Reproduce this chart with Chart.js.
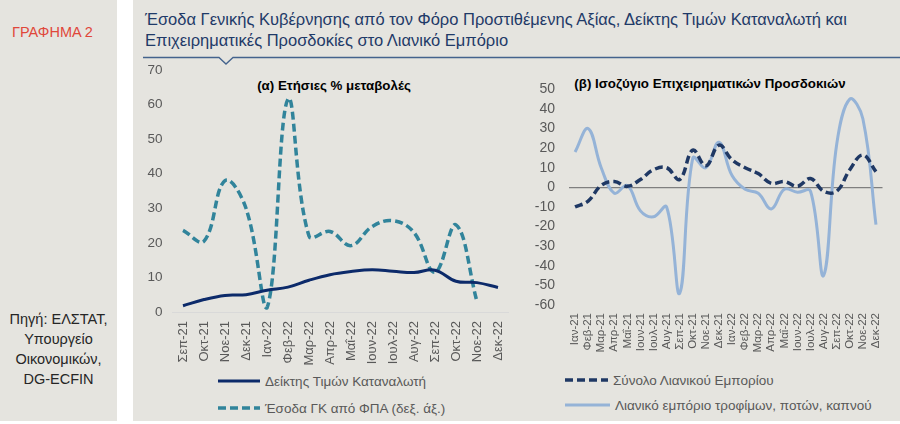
<!DOCTYPE html>
<html>
<head>
<meta charset="utf-8">
<script src="https://cdn.jsdelivr.net/npm/chart.js@4.4.0/dist/chart.umd.min.js"></script>
<style>
  body { margin: 0; width: 900px; height: 424px; background: #fff; position: relative; overflow: hidden;
         font-family: "Liberation Sans", Arial, sans-serif; }
  .panel { position: absolute; top: 0; height: 421px; background: #e5e4df; }
  .abs { position: absolute; white-space: nowrap; }
  .label-red { left: 12px; top: 24px; color: #e0473a; font-size: 14.5px; }
  .source { left: 0; width: 117px; top: 309px; text-align: center; color: #262626; font-size: 14.5px; line-height: 20px; }
  .title { left: 145px; top: 9px; color: #1f3a68; font-size: 16.5px; line-height: 20.5px; }
  .sub { font-weight: bold; font-size: 13.3px; color: #000; transform: translateX(-50%); }
  .leg { position: absolute; display: flex; align-items: center; height: 18px; color: #595959; font-size: 13.5px; white-space: nowrap; }
  .leg svg { margin-right: 5px; }
  canvas { position: absolute; }
</style>
</head>
<body>
<div class="panel" style="left:0;width:117px"></div>
<div class="panel" style="left:133px;width:767px"></div>

<div class="abs label-red">ΓΡΑΦΗΜΑ 2</div>
<div class="abs source">Πηγή: ΕΛΣΤΑΤ,<br>Υπουργείο<br>Οικονομικών,<br>DG-ECFIN</div>

<div class="abs title">Έσοδα Γενικής Κυβέρνησης από τον Φόρο Προστιθέμενης Αξίας, Δείκτης Τιμών Καταναλωτή και<br>Επιχειρηματικές Προσδοκίες στο Λιανικό Εμπόριο</div>
<svg class="abs" style="left:0;top:0" width="900" height="70">
  <polyline points="143,57.5 219,57.5 226,64 233,57.5 900,57.5" fill="none" stroke="#44638d" stroke-width="1.3"/>
</svg>

<div class="abs sub" style="left:334px;top:78px">(α) Ετήσιες % μεταβολές</div>
<div class="abs sub" style="left:710px;top:76px">(β) Ισοζύγιο Επιχειρηματικών Προσδοκιών</div>

<canvas id="chartA" width="375" height="312" style="left:140px;top:60px"></canvas>
<canvas id="chartB" width="385" height="275" style="left:515px;top:80px"></canvas>

<div class="leg" style="left:218px;top:372px">
  <svg width="42" height="6"><line x1="0" y1="3" x2="42" y2="3" stroke="#0c2a6a" stroke-width="3"/></svg>
  <span>Δείκτης Τιμών Καταναλωτή</span>
</div>
<div class="leg" style="left:218px;top:399px">
  <svg width="42" height="6"><line x1="0" y1="3" x2="42" y2="3" stroke="#31849b" stroke-width="3.5" stroke-dasharray="8,4"/></svg>
  <span>Έσοδα ΓΚ από ΦΠΑ (δεξ. άξ.)</span>
</div>
<div class="leg" style="left:565px;top:371px">
  <svg width="43" height="6"><line x1="0" y1="3" x2="43" y2="3" stroke="#1f3864" stroke-width="3.5" stroke-dasharray="8,4"/></svg>
  <span>Σύνολο Λιανικού Εμπορίου</span>
</div>
<div class="leg" style="left:565px;top:396px">
  <svg width="45" height="6"><line x1="0" y1="3" x2="45" y2="3" stroke="#95b3d7" stroke-width="3"/></svg>
  <span>Λιανικό εμπόριο τροφίμων, ποτών, καπνού</span>
</div>

<script>
// ---- data: (α) annual % changes ----
const monthsA = ['Σεπ-21', 'Οκτ-21', 'Νοε-21', 'Δεκ-21', 'Ιαν-22', 'Φεβ-22', 'Μαρ-22', 'Απρ-22',
                 'Μαΐ-22', 'Ιουν-22', 'Ιουλ-22', 'Αυγ-22', 'Σεπ-22', 'Οκτ-22', 'Νοε-22', 'Δεκ-22'];
const cpi = [1.8, 3.6, 4.8, 5.0, 6.3, 7.2, 9.2, 10.8, 11.7, 12.2, 11.8, 11.4, 12.1, 8.9, 8.5, 7.1];
const vatRevenue = [23.6, 20.5, 38, 30, 1.2, 61.6, 22, 23.3, 19.2, 24.7, 26.4, 23, 11.5, 25.2, 3, null];
const ticksA = [0, 10, 20, 30, 40, 50, 60, 70];

// ---- data: (β) business expectations balance ----
const monthsB = ['Ιαν-21', 'Φεβ-21', 'Μαρ-21', 'Απρ-21', 'Μαΐ-21', 'Ιουν-21', 'Ιουλ-21', 'Αυγ-21',
                 'Σεπ-21', 'Οκτ-21', 'Νοε-21', 'Δεκ-21', 'Ιαν-22', 'Φεβ-22', 'Μαρ-22', 'Απρ-22',
                 'Μαΐ-22', 'Ιουν-22', 'Ιουλ-22', 'Αυγ-22', 'Σεπ-22', 'Οκτ-22', 'Νοε-22', 'Δεκ-22'];
const retailTotal = [-10, -7, 1, 3, 0.5, 4, 9, 10, 4, 19, 11, 21.5, 14, 10, 7, 2, 3, 0.5, 4.5, -2, -2, 9, 16.5, 8];
const retailFood = [18, 30, 10, -3, 1, -12, -15, -10, -54, 15, 10, 23, 6, -1, -3, -11, -1, -2.5, -2, -45, 22, 45, 35, -19];
const ticksB = [-60, -50, -40, -30, -20, -10, 0, 10, 20, 30, 40, 50];

const tickColor = '#595959';
const fontFamily = '"Liberation Sans", Arial, sans-serif';

// keep the plot area exactly where layout.padding + afterFit put it
const noPad = s => { s.paddingTop = 0; s.paddingBottom = 0; s.paddingLeft = 0; s.paddingRight = 0; };

const baseOptions = {
  responsive: false,
  animation: false,
  devicePixelRatio: 1,
  plugins: { legend: { display: false }, tooltip: { enabled: false } },
  elements: { point: { radius: 0 }, line: { tension: 0.4, borderCapStyle: 'butt' } }
};

new Chart(document.getElementById('chartA'), {
  type: 'line',
  data: {
    labels: monthsA,
    datasets: [
      { data: cpi, borderColor: '#0c2a6a', borderWidth: 3 },
      { data: vatRevenue, borderColor: '#31849b', borderWidth: 3.5, borderDash: [8, 4] }
    ]
  },
  options: {
    ...baseOptions,
    layout: { padding: { top: 10, right: 6.5, bottom: 0, left: 0 } },
    scales: {
      x: {
        offset: true,
        grid: { display: false, drawTicks: false },
        border: { display: true, color: '#d9d9d9', width: 1 },
        ticks: { color: tickColor, font: { family: fontFamily, size: 13 }, minRotation: 90, maxRotation: 90, autoSkip: false, padding: 9 },
        afterFit: s => { s.height = 60; noPad(s); }
      },
      y: {
        min: ticksA[0], max: ticksA[ticksA.length - 1],
        afterBuildTicks: s => { s.ticks = ticksA.map(v => ({ value: v })); },
        grid: { display: false, drawTicks: false },
        border: { display: false },
        ticks: { color: tickColor, font: { family: fontFamily, size: 13.5 }, padding: 10, autoSkip: false },
        afterFit: s => { s.width = 32.5; noPad(s); }
      }
    }
  }
});

new Chart(document.getElementById('chartB'), {
  type: 'line',
  data: {
    labels: monthsB,
    datasets: [
      { data: retailTotal, borderColor: '#1f3864', borderWidth: 3.5, borderDash: [8, 4] },
      { data: retailFood, borderColor: '#95b3d7', borderWidth: 3 }
    ]
  },
  options: {
    ...baseOptions,
    layout: { padding: { top: 9.3, right: 17.5, bottom: 0, left: 0 } },
    scales: {
      x: {
        offset: true,
        grid: { display: false, drawTicks: false },
        border: { display: false },
        ticks: { color: tickColor, font: { family: fontFamily, size: 11.5 }, minRotation: 90, maxRotation: 90, autoSkip: false, padding: 8 },
        afterFit: s => { s.height = 50; noPad(s); }
      },
      y: {
        min: ticksB[0], max: ticksB[ticksB.length - 1],
        afterBuildTicks: s => { s.ticks = ticksB.map(v => ({ value: v })); },
        grid: { drawTicks: false, color: c => c.tick.value === 0 ? '#7f7f7f' : 'rgba(0,0,0,0)', lineWidth: 1.3 },
        border: { display: false },
        ticks: { color: tickColor, font: { family: fontFamily, size: 14 }, padding: 13.5, autoSkip: false },
        afterFit: s => { s.width = 53.5; noPad(s); }
      }
    }
  }
});
</script>
</body>
</html>
